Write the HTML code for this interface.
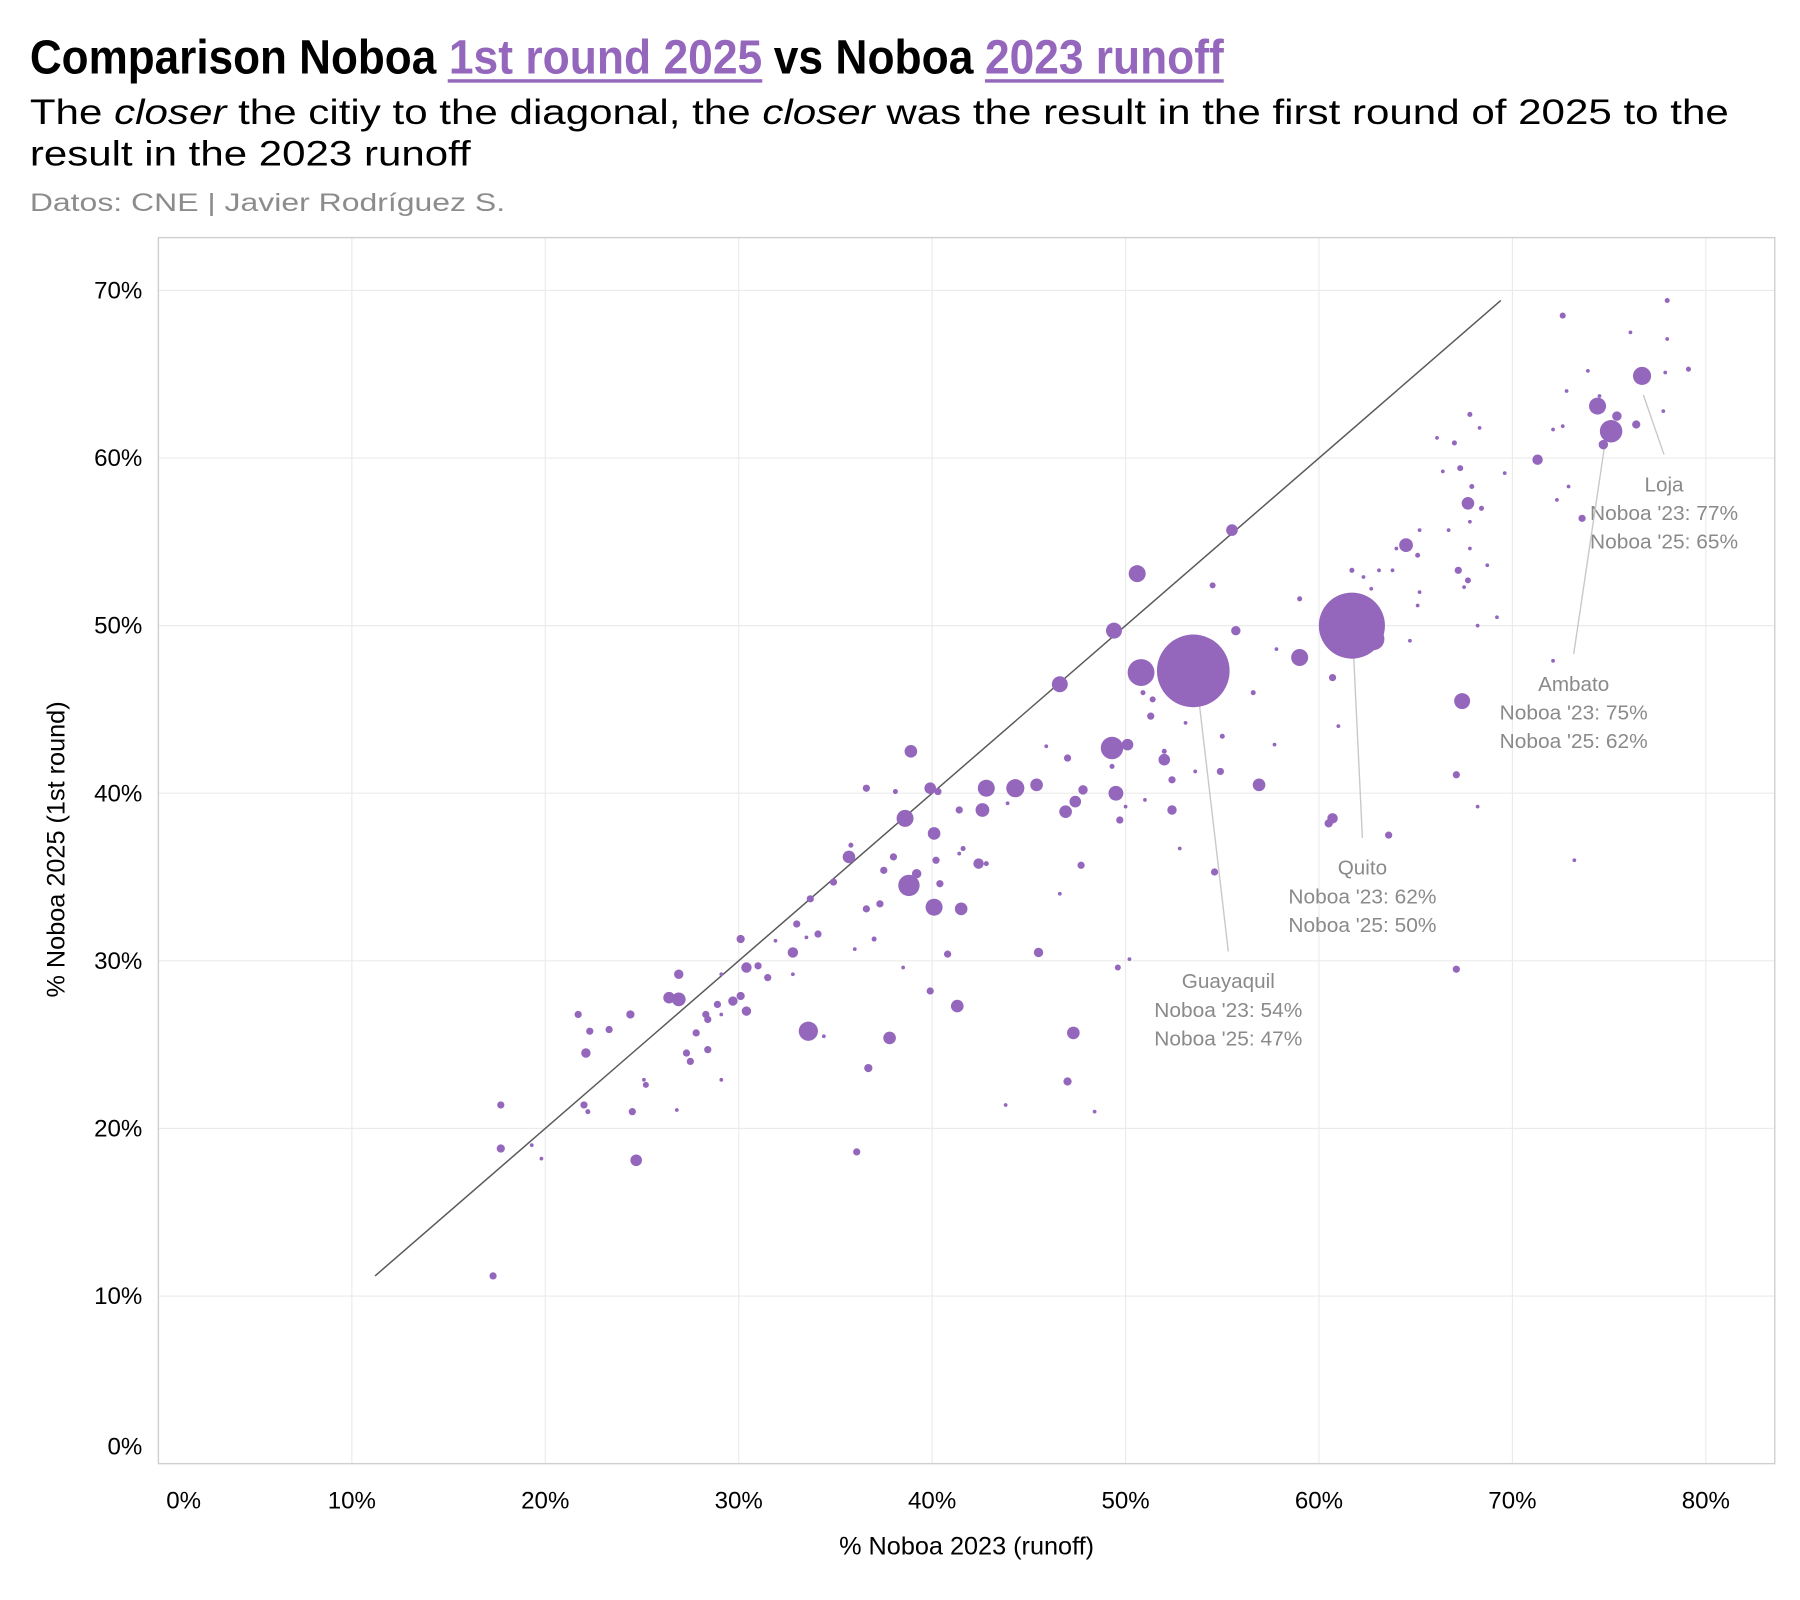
<!DOCTYPE html>
<html><head><meta charset="utf-8"><style>
html,body{margin:0;padding:0;background:#fff;}
svg{display:block;}
</style></head><body>
<svg id="chart" width="1800" height="1600" viewBox="0 0 1568 1393.8" preserveAspectRatio="none" xmlns="http://www.w3.org/2000/svg">
<g font-family="'Liberation Sans',sans-serif" font-weight="bold" font-size="42">
<text x="26" y="64" fill="#000" textLength="354" lengthAdjust="spacingAndGlyphs">Comparison Noboa</text>
<text x="391" y="64" fill="#9467bd" textLength="273" lengthAdjust="spacingAndGlyphs">1st round 2025</text>
<text x="674" y="64" fill="#000" textLength="174" lengthAdjust="spacingAndGlyphs">vs Noboa</text>
<text x="858" y="64" fill="#9467bd" textLength="208" lengthAdjust="spacingAndGlyphs">2023 runoff</text>
</g>
<rect x="390" y="69" width="274" height="3" fill="#9467bd"/>
<rect x="858" y="69" width="208" height="3" fill="#9467bd"/>
<text x="26" y="108" font-family="'Liberation Sans',sans-serif" font-size="31" fill="#000" textLength="1480" lengthAdjust="spacingAndGlyphs">The <tspan font-style="italic">closer</tspan> the citiy to the diagonal, the <tspan font-style="italic">closer</tspan> was the result in the first round of 2025 to the</text>
<text x="26" y="144" font-family="'Liberation Sans',sans-serif" font-size="31" fill="#000" textLength="384" lengthAdjust="spacingAndGlyphs">result in the 2023 runoff</text>
<text x="26" y="184" font-family="'Liberation Sans',sans-serif" font-size="22" fill="#8c8c8c" textLength="414" lengthAdjust="spacingAndGlyphs">Datos: CNE | Javier Rodríguez S.</text>
<g id="grid"></g>
<rect x="138" y="207" width="1408" height="1068" fill="none" stroke="#cfcfcf" stroke-width="1.2"/>
<g id="diag"></g>
<g id="annot"></g>
<g id="points"></g>
<g id="ticks"></g>
<text x="842" y="1354" text-anchor="middle" font-family="'Liberation Sans',sans-serif" font-size="22" fill="#000">% Noboa 2023 (runoff)</text>
<text transform="translate(56,740) rotate(-90)" text-anchor="middle" font-family="'Liberation Sans',sans-serif" font-size="22" fill="#000">% Noboa 2025 (1st round)</text>
</svg>
<script>
const xTicks = [0,10,20,30,40,50,60,70,80];
const yTicks = [0,10,20,30,40,50,60,70];
const x23 = [78.0,72.6,76.1,78.0,76.7,79.1,73.9,77.9,74.4,74.5,75.1,75.4,74.7,76.4,77.8,72.1,71.3,72.6,72.8,67.8,67.0,66.1,67.3,67.9,67.7,68.4,68.3,69.6,66.4,73.6,72.3,72.9,64.5,65.2,66.7,67.8,67.8,67.2,67.7,67.5,68.7,65.1,64.0,63.8,63.1,62.7,61.7,62.3,59.0,65.2,65.1,64.7,68.2,69.2,61.7,62.8,59.0,60.7,61.0,67.4,72.1,67.1,68.2,73.2,67.1,63.6,60.7,60.5,55.5,54.5,55.7,53.5,56.6,57.8,57.7,50.6,49.4,50.8,52.9,51.4,50.9,51.3,53.1,55.0,52.0,54.9,56.9,53.6,49.3,50.1,52.0,52.4,49.3,46.6,45.9,47.0,49.5,50.0,51.0,52.4,46.9,47.4,47.8,45.4,44.3,42.8,43.9,42.6,49.7,52.8,54.6,47.7,42.4,42.8,41.4,45.5,46.6,47.3,47.0,48.4,49.6,50.2,43.8,38.9,38.6,39.9,40.3,40.1,41.4,40.2,39.2,38.8,40.1,41.5,40.4,41.6,40.8,41.3,39.9,38.0,37.5,38.1,36.6,35.7,35.8,34.9,36.6,37.3,36.0,37.0,38.5,33.7,34.1,33.5,33.0,32.8,31.9,31.5,31.0,30.1,30.4,30.1,29.7,28.9,29.1,30.4,32.8,33.6,34.4,37.8,36.7,36.1,26.9,26.9,26.4,28.4,28.4,29.1,28.3,27.8,27.3,27.5,29.1,23.3,24.4,22.3,21.7,22.1,22.0,22.2,26.8,25.1,25.2,24.5,24.7,17.7,17.7,19.3,19.8,17.3];
const y25 = [69.4,68.5,67.5,67.1,64.9,65.3,65.2,65.1,63.1,63.7,61.6,62.5,60.8,62.0,62.8,61.7,59.9,61.9,64.0,62.6,60.9,61.2,59.4,58.3,57.3,57.0,61.8,59.1,59.2,56.4,57.5,58.3,54.8,55.7,55.7,56.2,54.6,53.3,52.7,52.3,53.6,54.2,54.6,53.3,53.3,52.2,53.3,52.9,51.6,52.0,51.2,49.1,50.0,50.5,50.0,49.2,48.1,46.9,44.0,45.5,47.9,41.1,39.2,36.0,29.5,37.5,38.5,38.2,55.7,52.4,49.7,47.3,46.0,48.6,42.9,53.1,49.7,47.2,47.8,45.6,46.0,44.6,44.2,43.4,42.5,41.3,40.5,41.3,42.7,42.9,42.0,40.8,41.6,46.5,42.8,42.1,40.0,39.2,39.6,39.0,38.9,39.5,40.2,40.5,40.3,40.3,39.4,39.0,38.4,36.7,35.3,35.7,35.8,35.8,36.4,30.5,34.0,25.7,22.8,21.0,29.6,30.1,21.4,42.5,38.5,40.3,40.1,37.6,39.0,36.0,35.2,34.5,33.2,33.1,34.6,36.7,30.4,27.3,28.2,36.2,35.4,40.1,40.3,36.2,36.9,34.7,33.1,33.4,30.7,31.3,29.6,33.7,31.6,31.4,32.2,30.5,31.2,29.0,29.7,31.3,29.6,27.9,27.6,27.4,29.2,27.0,29.2,25.8,25.5,25.4,23.6,18.6,29.2,27.7,27.8,26.5,24.7,26.8,26.8,25.7,24.5,24.0,22.9,25.9,26.8,25.8,26.8,24.5,21.4,21.0,21.1,22.9,22.6,21.0,18.1,21.4,18.8,19.0,18.2,11.2];
const votes = [4,6,2,2,64,4,2,2,56,2,100,16,16,12,2,2,20,2,2,4,4,2,6,4,30,4,2,2,2,9,2,2,36,2,2,2,2,9,6,2,2,4,2,2,2,2,4,2,4,2,2,2,2,2,900,100,56,9,2,49,2,9,2,2,9,9,20,12,25,6,16,1089,4,2,2,56,49,144,4,6,4,9,2,4,4,9,30,2,100,25,25,9,4,49,2,9,42,2,2,16,30,25,16,30,64,56,2,36,9,2,9,9,20,4,2,16,2,30,12,2,6,2,2,30,56,25,9,30,9,9,16,90,56,30,9,4,9,30,9,9,9,4,9,30,4,9,9,9,2,4,2,9,9,2,9,20,2,9,9,12,20,12,16,9,2,16,2,72,2,30,12,9,16,36,25,9,9,2,9,9,9,9,2,9,12,9,9,16,9,4,2,2,6,9,25,9,12,2,2,9];
const annLabels = ["Loja","Ambato","Quito","Guayaquil"];
const ann23 = [77,75,62,54];
const ann25 = [65,62,50,47];

const NS="http://www.w3.org/2000/svg";
const X0=138, PX=16.85, Y0=1275, PY=14.6;
const sx=v=>X0+v*PX, sy=v=>Y0-v*PY;
function mk(tag,attrs,parent){const e=document.createElementNS(NS,tag);for(const k in attrs)e.setAttribute(k,attrs[k]);parent.appendChild(e);return e;}
const grid=document.getElementById('grid'), ticks=document.getElementById('ticks');
xTicks.forEach(t=>{
  const l=mk('line',{x1:sx(t),x2:sx(t),y1:207,y2:1275,stroke:'#ebebeb','stroke-width':1},grid);
  
  
  const tx=mk('text',{x:t===0?160:sx(t),y:1314,'text-anchor':'middle','font-family':"'Liberation Sans',sans-serif",'font-size':21,fill:'#000'},ticks);
  tx.textContent=t+'%';
  
  
});
yTicks.forEach(t=>{
  const l=mk('line',{x1:138,x2:1546,y1:sy(t),y2:sy(t),stroke:'#ebebeb','stroke-width':1},grid);
  
  
  const tx=mk('text',{x:124,y:(t===0?1260:sy(t))+7,'text-anchor':'end','font-family':"'Liberation Sans',sans-serif",'font-size':21,fill:'#000'},ticks);
  tx.textContent=t+'%';
  
  
});
const dg=mk('line',{x1:sx(11.2),y1:sy(11.2),x2:sx(69.4),y2:sy(69.4),stroke:'#5a5a5a','stroke-width':1.3},document.getElementById('diag'));


const pts=document.getElementById('points');
x23.forEach((v,i)=>{
  const c=mk('circle',{cx:sx(v),cy:sy(y25[i]),r:Math.sqrt(votes[i])*0.95+0.3,fill:'#9467bd'},pts);
  
  
});
const an=document.getElementById('annot');
const annOff=[[20,70],[-25,200],[10,185],[28,240]];
annLabels.forEach((n,i)=>{
  const px=sx(ann23[i]-0.35), py=sy(ann25[i]);
  const tx=px+annOff[i][0], ty=py+annOff[i][1];
  const l=mk('line',{x1:px+2,y1:py+18,x2:tx,y2:ty,stroke:'#c8c8c8','stroke-width':1.2},an);
  
  
  const lines=[n,"Noboa '23: "+ann23[i]+"%","Noboa '25: "+ann25[i]+"%"];
  lines.forEach((s,k)=>{
    const attrs={x:tx,y:ty+32+k*25,'text-anchor':'middle','font-family':"'Liberation Sans',sans-serif",'font-size':18,fill:'#8a8a8a'};
    if(k>0){attrs.textLength=129;attrs.lengthAdjust='spacingAndGlyphs';}
    const t=mk('text',attrs,an);
    
    
    t.textContent=s;
  });
});
</script>
</body></html>
